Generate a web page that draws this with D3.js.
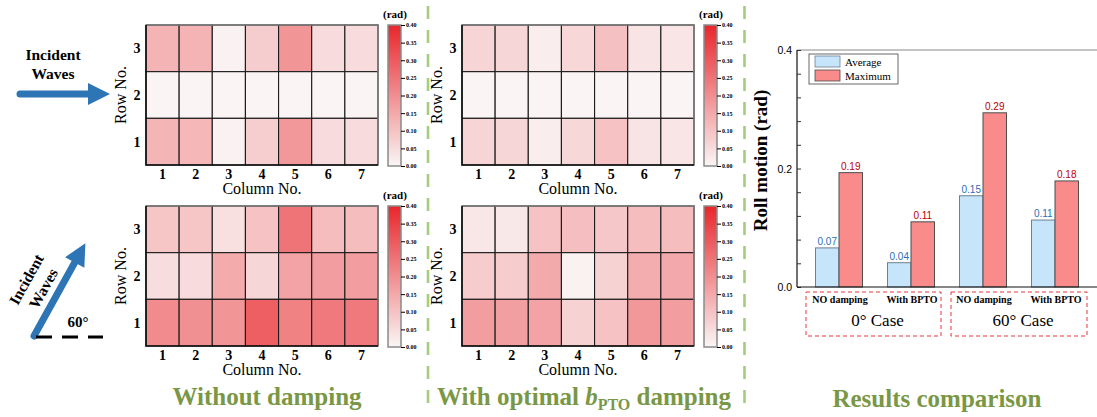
<!DOCTYPE html>
<html>
<head>
<meta charset="utf-8">
<script src="https://cdn.jsdelivr.net/npm/d3@7"></script>
<style>
  html, body { margin: 0; padding: 0; background: #fff; }
  svg { display: block; }
</style>
</head>
<body>
<svg id="fig" width="1097" height="417" font-family="'Liberation Serif', 'Times New Roman', 'DejaVu Serif', serif"></svg>
<script>
// ---- data -------------------------------------------------------------
const columnNos = [1, 2, 3, 4, 5, 6, 7];
const rowNos = [3, 2, 1];                 // drawn top to bottom
const colorTicks = [0, 0.05, 0.10, 0.15, 0.20, 0.25, 0.30, 0.35, 0.40];

// roll amplitude (rad) per float, index [row-1][column-1]
const roll0Free = [
  [0.125, 0.122, 0.007, 0.077, 0.182, 0.050, 0.050],
  [0.004, 0.004, 0.004, 0.004, 0.004, 0.004, 0.004],
  [0.128, 0.128, 0.007, 0.079, 0.187, 0.052, 0.052]
];
const roll0Pto = [
  [0.064, 0.062, 0.017, 0.058, 0.100, 0.035, 0.033],
  [0.004, 0.004, 0.004, 0.004, 0.004, 0.004, 0.004],
  [0.064, 0.062, 0.017, 0.060, 0.104, 0.035, 0.033]
];
const roll60Free = [
  [0.205, 0.197, 0.187, 0.290, 0.224, 0.240, 0.240],
  [0.048, 0.050, 0.145, 0.062, 0.160, 0.172, 0.172],
  [0.095, 0.095, 0.044, 0.100, 0.250, 0.110, 0.110]
];
const roll60Pto = [
  [0.170, 0.168, 0.160, 0.070, 0.100, 0.180, 0.170],
  [0.080, 0.080, 0.147, 0.010, 0.070, 0.140, 0.148],
  [0.030, 0.027, 0.100, 0.105, 0.090, 0.110, 0.110]
];

// summary bars
const caseLabels = ["NO damping", "With BPTO", "NO damping", "With BPTO"];
const avgRoll = [0.066, 0.041, 0.154, 0.113];
const maxRoll = [0.193, 0.110, 0.294, 0.179];
const groupNames = ["0° Case", "60° Case"];
const legendNames = ["Average", "Maximum"];
const barTicks = [0, 0.2, 0.4];

// ---- shared -----------------------------------------------------------
const svg = d3.select("#fig");
const serif = "'Liberation Serif', 'Times New Roman', 'DejaVu Serif', serif";
const sans = "'Liberation Sans', Arial, sans-serif";
const green = "#7a9745";
const arrowBlue = "#2e75b6";
const color = d3.scaleLinear().domain([0, 0.4]).range(["#faf6f6", "#e8262b"]);

const defs = svg.append("defs");
const grad = defs.append("linearGradient").attr("id", "cbar")
  .attr("x1", 0).attr("y1", 1).attr("x2", 0).attr("y2", 0);
d3.range(0, 1.0001, 0.1).forEach(t => {
  grad.append("stop").attr("offset", t).attr("stop-color", color(t * 0.4));
});

// ---- heat map panel -----------------------------------------------------
function heatmap(data, box, cbar) {
  const g = svg.append("g");
  const x = d3.scaleBand().domain(columnNos).range([box.x0, box.x1]);
  const y = d3.scaleBand().domain(rowNos).range([box.y0, box.y1]);

  const cells = [];
  rowNos.forEach(r => columnNos.forEach(c => cells.push({ r, c, v: data[r - 1][c - 1] })));

  g.selectAll("rect.cell").data(cells).join("rect")
    .attr("class", "cell")
    .attr("x", d => x(d.c)).attr("y", d => y(d.r))
    .attr("width", x.bandwidth()).attr("height", y.bandwidth())
    .attr("fill", d => color(d.v))
    .attr("stroke", "#1c1c1c").attr("stroke-width", 1.1);

  // frame: grey top/right, dark left/bottom
  g.append("path")
    .attr("d", `M${box.x0},${box.y0}H${box.x1}V${box.y1}`)
    .attr("fill", "none").attr("stroke", "#7c7c7c").attr("stroke-width", 1.6);
  g.append("path")
    .attr("d", `M${box.x0},${box.y0}V${box.y1}H${box.x1}`)
    .attr("fill", "none").attr("stroke", "#111").attr("stroke-width", 1.6);

  // column numbers
  g.selectAll("text.col").data(columnNos).join("text")
    .attr("class", "col")
    .attr("x", d => x(d) + x.bandwidth() / 2)
    .attr("y", box.y1 + 14)
    .attr("text-anchor", "middle")
    .attr("font-size", 14).attr("font-weight", "bold")
    .text(d => d);
  // row numbers
  g.selectAll("text.row").data(rowNos).join("text")
    .attr("class", "row")
    .attr("x", box.x0 - 9)
    .attr("y", d => y(d) + y.bandwidth() / 2 + 5)
    .attr("text-anchor", "middle")
    .attr("font-size", 14).attr("font-weight", "bold")
    .text(d => d);

  g.append("text")
    .attr("x", (box.x0 + box.x1) / 2).attr("y", box.y1 + 29)
    .attr("text-anchor", "middle").attr("font-size", 16)
    .text("Column No.");
  g.append("text")
    .attr("transform", `translate(${box.x0 - 20},${(box.y0 + box.y1) / 2}) rotate(-90)`)
    .attr("text-anchor", "middle").attr("font-size", 16)
    .text("Row No.");

  // colour bar
  g.append("rect")
    .attr("x", cbar.x).attr("y", box.y0)
    .attr("width", 13).attr("height", box.y1 - box.y0 + 1)
    .attr("fill", "url(#cbar)")
    .attr("stroke", "#8a8a8a").attr("stroke-width", 1.5);
  const cy = d3.scaleLinear().domain([0, 0.4]).range([box.y1 + 1, box.y0]);
  const ax = g.append("g")
    .attr("transform", `translate(${cbar.x + 13},0)`)
    .call(d3.axisRight(cy).tickValues(colorTicks).tickFormat(d3.format(".2f"))
      .tickSize(4).tickPadding(1));
  ax.attr("font-family", serif);
  ax.select(".domain").remove();
  ax.selectAll("line").attr("stroke", "#000").attr("stroke-width", 1);
  ax.selectAll("text").attr("font-size", 6).attr("font-weight", "bold");
  g.append("text")
    .attr("x", cbar.x + 7).attr("y", box.y0 - 7)
    .attr("text-anchor", "middle").attr("font-size", 11).attr("font-weight", "bold")
    .text("(rad)");
}

heatmap(roll0Free,  { x0: 146, x1: 378, y0: 25,  y1: 165 }, { x: 388 });
heatmap(roll0Pto,   { x0: 462, x1: 694, y0: 25,  y1: 165 }, { x: 704 });
heatmap(roll60Free, { x0: 146, x1: 378, y0: 206, y1: 346 }, { x: 388 });
heatmap(roll60Pto,  { x0: 462, x1: 694, y0: 206, y1: 346 }, { x: 704 });

// ---- wave direction arrows ------------------------------------------------
function arrow(g, len) {
  g.append("line").attr("x1", 0).attr("y1", 0).attr("x2", len - 20).attr("y2", 0)
    .attr("stroke", arrowBlue).attr("stroke-width", 7).attr("stroke-linecap", "round");
  g.append("path")
    .attr("d", `M${len - 22},-11L${len},0L${len - 22},11Z`)
    .attr("fill", arrowBlue);
}
arrow(svg.append("g").attr("transform", "translate(20,94)"), 90);
svg.append("text").attr("x", 53).attr("y", 60)
  .attr("text-anchor", "middle").attr("font-size", 15.5).attr("font-weight", "bold")
  .text("Incident");
svg.append("text").attr("x", 53).attr("y", 79)
  .attr("text-anchor", "middle").attr("font-size", 15.5).attr("font-weight", "bold")
  .text("Waves");

arrow(svg.append("g").attr("transform", "translate(34,336) rotate(-61)"), 106);
svg.append("line").attr("x1", 36).attr("y1", 337).attr("x2", 103).attr("y2", 337)
  .attr("stroke", "#000").attr("stroke-width", 3).attr("stroke-dasharray", "16,10");
svg.append("text").attr("x", 78).attr("y", 327)
  .attr("text-anchor", "middle").attr("font-size", 15).attr("font-weight", "bold")
  .text("60°");
svg.append("text").attr("transform", "translate(31,282) rotate(-61)")
  .attr("text-anchor", "middle").attr("font-size", 15.5).attr("font-weight", "bold")
  .text("Incident");
svg.append("text").attr("transform", "translate(48,291) rotate(-61)")
  .attr("text-anchor", "middle").attr("font-size", 15.5).attr("font-weight", "bold")
  .text("Waves");

// ---- panel separators -----------------------------------------------------
[428, 744.5].forEach(xp => {
  svg.append("line").attr("x1", xp).attr("x2", xp).attr("y1", 6).attr("y2", 412)
    .attr("stroke", "#a7cc7a").attr("stroke-width", 2.6).attr("stroke-dasharray", "13,11");
});

// ---- bar chart --------------------------------------------------------------
const yB = d3.scaleLinear().domain([0, 0.4]).range([287, 50]);
const xB = d3.scaleBand().domain(d3.range(caseLabels.length)).range([803, 1091]);
const bw = 23.5;
const bars = svg.append("g");

// frame and ticks
bars.append("line").attr("x1", 797).attr("x2", 1097).attr("y1", yB(0.4)).attr("y2", yB(0.4))
  .attr("stroke", "#888").attr("stroke-width", 1);
bars.append("line").attr("x1", 797).attr("x2", 797).attr("y1", yB(0.4)).attr("y2", yB(0))
  .attr("stroke", "#111").attr("stroke-width", 1.2);
const yAxis = bars.append("g").attr("transform", "translate(797,0)")
  .call(d3.axisRight(yB).tickValues(d3.range(0, 0.4001, 0.04)).tickSize(4).tickFormat(""));
yAxis.select(".domain").remove();
yAxis.selectAll("line").attr("stroke", "#333");
bars.selectAll("text.ytick").data(barTicks).join("text")
  .attr("class", "ytick")
  .attr("x", 792).attr("y", d => yB(d) + 4)
  .attr("text-anchor", "end")
  .attr("font-family", sans)
  .attr("font-size", 10.5)
  .text(d => d.toFixed(1));
bars.append("text")
  .attr("transform", `translate(767,${yB(0.2) - 8}) rotate(-90)`)
  .attr("text-anchor", "middle").attr("font-size", 19).attr("font-weight", "bold")
  .text("Roll motion (rad)");

// average and maximum bars
bars.selectAll("rect.avg").data(avgRoll).join("rect")
  .attr("class", "avg")
  .attr("x", (d, i) => xB(i) + xB.bandwidth() / 2 - bw)
  .attr("y", d => yB(d)).attr("width", bw).attr("height", d => yB(0) - yB(d))
  .attr("fill", "#c6e5fa").attr("stroke", "#6f7f8f").attr("stroke-width", 1);
bars.selectAll("rect.max").data(maxRoll).join("rect")
  .attr("class", "max")
  .attr("x", (d, i) => xB(i) + xB.bandwidth() / 2)
  .attr("y", d => yB(d)).attr("width", bw).attr("height", d => yB(0) - yB(d))
  .attr("fill", "#f98b8b").attr("stroke", "#4d4d4d").attr("stroke-width", 1);

bars.selectAll("text.avgl").data(avgRoll).join("text")
  .attr("class", "avgl")
  .attr("x", (d, i) => xB(i) + xB.bandwidth() / 2 - bw / 2)
  .attr("y", d => yB(d) - 3)
  .attr("text-anchor", "middle")
  .attr("font-family", sans)
  .attr("font-size", 10).attr("fill", "#2a6fb5")
  .text(d => d.toFixed(2));
bars.selectAll("text.maxl").data(maxRoll).join("text")
  .attr("class", "maxl")
  .attr("x", (d, i) => xB(i) + xB.bandwidth() / 2 + bw / 2)
  .attr("y", d => yB(d) - 3)
  .attr("text-anchor", "middle")
  .attr("font-family", sans)
  .attr("font-size", 10).attr("fill", "#c00000")
  .text(d => d.toFixed(2));

bars.append("line").attr("x1", 797).attr("x2", 1097).attr("y1", yB(0)).attr("y2", yB(0))
  .attr("stroke", "#111").attr("stroke-width", 1.2);

// legend
const lg = bars.append("g");
lg.append("rect").attr("x", 809).attr("y", 54).attr("width", 89).attr("height", 30)
  .attr("fill", "#fff").attr("stroke", "#444").attr("stroke-width", 0.8);
[["#c6e5fa", "#6f7f8f"], ["#f98b8b", "#4d4d4d"]].forEach((c, i) => {
  lg.append("rect").attr("x", 815).attr("y", 56 + i * 14).attr("width", 25).attr("height", 11)
    .attr("fill", c[0]).attr("stroke", c[1]).attr("stroke-width", 0.8);
  lg.append("text").attr("x", 845).attr("y", 65.5 + i * 14)
    .attr("font-size", 11).text(legendNames[i]);
});

// case labels and dashed group boxes
bars.selectAll("text.case").data(caseLabels).join("text")
  .attr("class", "case")
  .attr("x", (d, i) => xB(i) + xB.bandwidth() / 2 + 1)
  .attr("y", 303)
  .attr("text-anchor", "middle").attr("font-size", 10).attr("font-weight", "bold")
  .text(d => d);
[[806, 941], [951, 1087]].forEach((b, i) => {
  bars.append("rect").attr("x", b[0]).attr("y", 292).attr("width", b[1] - b[0]).attr("height", 44)
    .attr("fill", "none").attr("stroke", "#e8393b").attr("stroke-width", 1)
    .attr("stroke-dasharray", "4,3");
  bars.append("text").attr("x", (b[0] + b[1]) / 2 + 4).attr("y", 326)
    .attr("text-anchor", "middle").attr("font-size", 17)
    .text(groupNames[i]);
});

// ---- panel titles ----------------------------------------------------------
svg.append("text").attr("x", 267).attr("y", 405)
  .attr("text-anchor", "middle").attr("font-size", 25).attr("font-weight", "bold")
  .attr("fill", green).text("Without damping");
const t2 = svg.append("text").attr("x", 584).attr("y", 405)
  .attr("text-anchor", "middle").attr("font-size", 25).attr("font-weight", "bold")
  .attr("fill", green);
t2.append("tspan").text("With optimal ");
t2.append("tspan").attr("font-style", "italic").text("b");
t2.append("tspan").attr("font-size", 16).attr("dy", 5).text("PTO");
t2.append("tspan").attr("dy", -5).text(" damping");
svg.append("text").attr("x", 937).attr("y", 407)
  .attr("text-anchor", "middle").attr("font-size", 25).attr("font-weight", "bold")
  .attr("fill", green).text("Results comparison");
</script>
</body>
</html>
